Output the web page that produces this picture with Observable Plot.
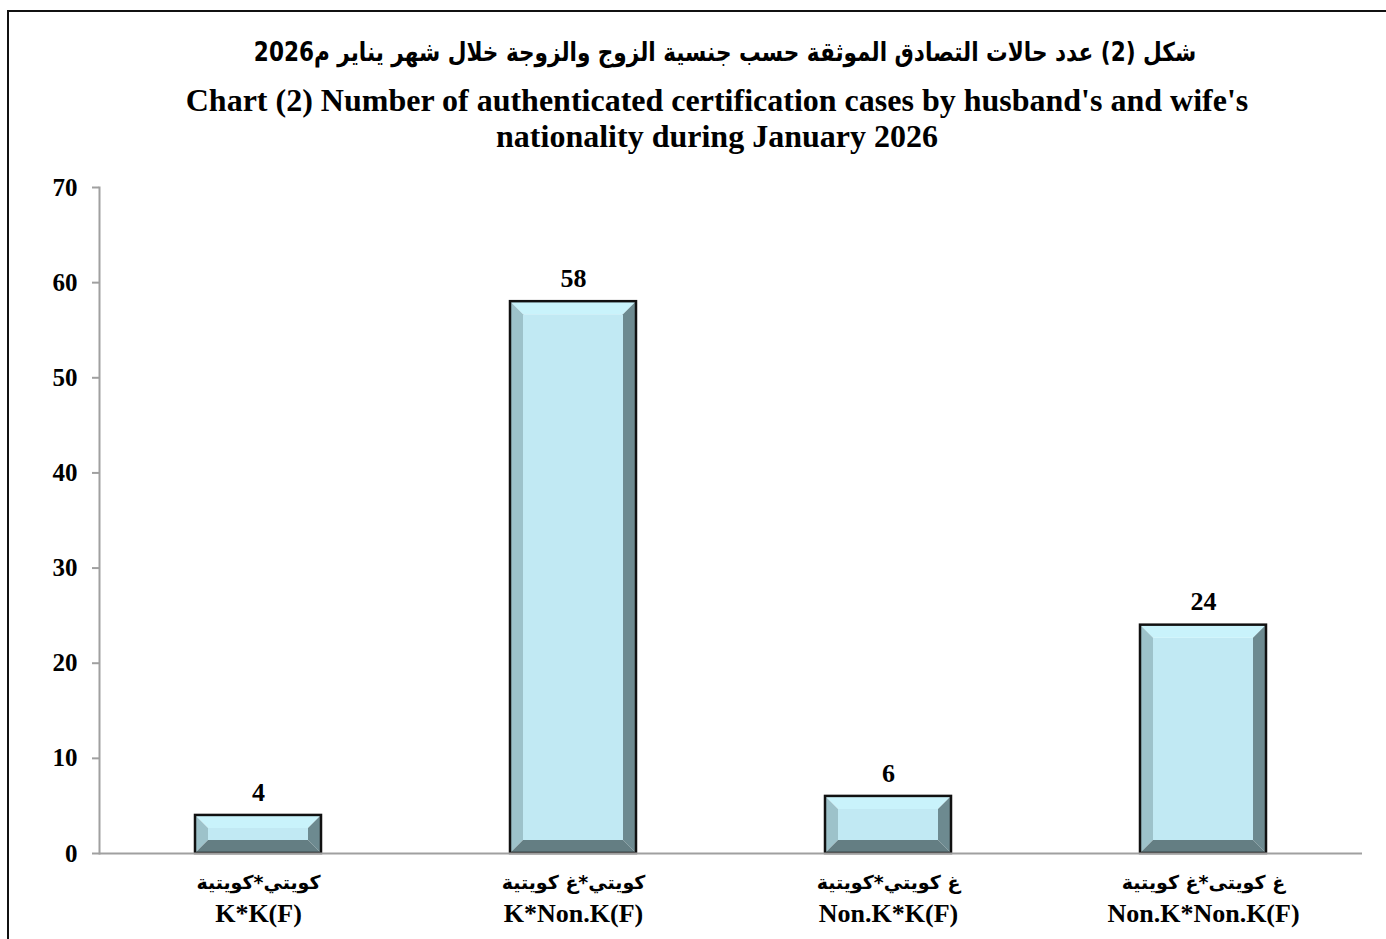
<!DOCTYPE html>
<html>
<head>
<meta charset="utf-8">
<script src="https://cdn.jsdelivr.net/npm/d3@7"></script>
<script src="https://cdn.jsdelivr.net/npm/@observablehq/plot@0.6"></script>
<style>
  html, body { margin: 0; padding: 0; background: #fff; overflow: hidden; }
  body { width: 1386px; height: 939px; position: relative; font-family: "Liberation Serif", "DejaVu Sans", serif; }
  #frame { position: absolute; left: 7px; top: 10px; width: 1400px; height: 960px; border: 2px solid #111; box-sizing: border-box; }
  .t { position: absolute; left: 0; width: 1434px; text-align: center; font-weight: bold; color: #000; white-space: nowrap; }
  #ar { left: 8px; top: 33px; font-size: 26px; line-height: 38px; direction: rtl; font-family: "DejaVu Sans", sans-serif; transform: scaleX(0.83); transform-origin: 717px 0; }
  #en1 { top: 81px; font-size: 32px; line-height: 38px; }
  #en2 { top: 117px; font-size: 32px; line-height: 38px; }
  #chart { position: absolute; left: 0; top: 170px; }
</style>
</head>
<body>
<div id="frame"></div>
<div id="ar" class="t"></div>
<div id="en1" class="t"></div>
<div id="en2" class="t"></div>
<div id="chart"></div>
<script>
const titleAr = "شكل (2) عدد حالات التصادق الموثقة حسب جنسية الزوج والزوجة خلال شهر يناير م2026";
const titleEn1 = "Chart (2) Number of authenticated certification cases by husband's and wife's";
const titleEn2 = "nationality during January 2026";

const categories = ["K*K(F)", "K*Non.K(F)", "Non.K*K(F)", "Non.K*Non.K(F)"];
const labelsAr = ["كويتي*كويتية", "كويتي*غ كويتية", "غ كويتي*كويتية", "غ كويتى*غ كويتية"];
const values = [4, 58, 6, 24];
const yTicks = [0, 10, 20, 30, 40, 50, 60, 70];

document.getElementById("ar").textContent = titleAr;
document.getElementById("en1").textContent = titleEn1;
document.getElementById("en2").textContent = titleEn2;

const data = categories.map((c, i) => ({cat: c, ar: labelsAr[i], value: values[i]}));
const arOf = new Map(categories.map((c, i) => [c, labelsAr[i]]));

const BEVEL = 13;
function bevelRender(index, scales, vals, dims, context, next) {
  const xs = scales.x;
  const bw = typeof xs.bandwidth === "function" ? xs.bandwidth() : xs.bandwidth;
  const g = d3.create("svg:g");
  for (const i of index) {
    const x0 = vals.x[i], x1 = x0 + bw;
    const yTop = Math.min(vals.y1[i], vals.y2[i]);
    const yBot = Math.max(vals.y1[i], vals.y2[i]);
    const b = Math.min(BEVEL, (yBot - yTop) / 2, bw / 2);
    const pts = (a) => a.map(p => p.join(",")).join(" ");
    const polys = [
      {c: "#c1e9f3", p: [[x0 + b, yTop + b], [x1 - b, yTop + b], [x1 - b, yBot - b], [x0 + b, yBot - b]]},
      {c: "#c9f3fb", p: [[x0, yTop], [x1, yTop], [x1 - b, yTop + b], [x0 + b, yTop + b]]},
      {c: "#9dc2ca", p: [[x0, yTop], [x0 + b, yTop + b], [x0 + b, yBot - b], [x0, yBot]]},
      {c: "#6d8a90", p: [[x1, yTop], [x1, yBot], [x1 - b, yBot - b], [x1 - b, yTop + b]]},
      {c: "#647e83", p: [[x0, yBot], [x0 + b, yBot - b], [x1 - b, yBot - b], [x1, yBot]]}
    ];
    for (const q of polys) g.append("polygon").attr("points", pts(q.p)).attr("fill", q.c);
    g.append("rect").attr("x", x0).attr("y", yTop).attr("width", bw).attr("height", yBot - yTop)
      .attr("fill", "none").attr("stroke", "#111").attr("stroke-width", 2.5);
  }
  return g.node();
}

const chart = Plot.plot({
  width: 1386,
  height: 769,
  marginLeft: 99,
  marginRight: 24,
  marginTop: 17,
  marginBottom: 86,
  style: {fontFamily: "'Liberation Serif', 'DejaVu Sans', serif", background: "transparent", overflow: "visible"},
  x: {domain: categories, paddingInner: 0.6, paddingOuter: 0.3, label: null},
  y: {domain: [0, 70], label: null},
  marks: [
    Plot.frame({anchor: "left", stroke: "#a0a0a0", strokeWidth: 2}),
    Plot.axisY({ticks: yTicks, tickSize: 7, tickPadding: 15, stroke: "#a0a0a0", strokeWidth: 2,
      fontSize: 25, fontWeight: "bold", fill: "#000", label: null}),
    Plot.barY(data, {x: "cat", y: "value", render: bevelRender}),
    Plot.ruleY([0], {stroke: "#a0a0a0", strokeWidth: 2}),
    Plot.text(data, {x: "cat", y: "value", text: d => String(d.value), dy: -23,
      fontSize: 26, fontWeight: "bold", fill: "#000"}),
    Plot.axisX({tickSize: 0, tickPadding: 22, tickFormat: c => arOf.get(c), fontSize: 19, fontWeight: "bold",
      fill: "#000", label: null, fontFamily: "'DejaVu Sans', sans-serif"}),
    Plot.axisX({tickSize: 0, tickPadding: 50, tickFormat: c => c, fontSize: 26, fontWeight: "bold",
      fill: "#000", label: null})
  ]
});
document.getElementById("chart").appendChild(chart);
</script>
</body>
</html>
